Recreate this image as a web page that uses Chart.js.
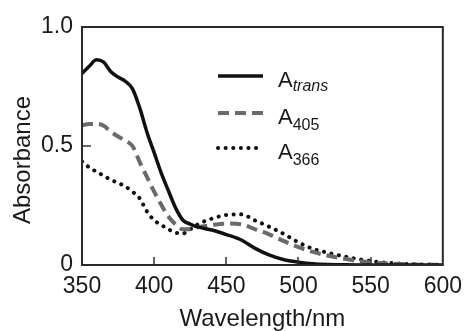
<!DOCTYPE html>
<html>
<head>
<meta charset="utf-8">
<script src="https://cdn.jsdelivr.net/npm/chart.js@4/dist/chart.umd.min.js"></script>
<style>
  html, body { margin: 0; padding: 0; background: #fff; }
  #wrap { width: 470px; height: 331px; }
</style>
</head>
<body>
<div id="wrap"><canvas id="c" width="470" height="331"></canvas></div>
<script>
// ---- data ----
const wavelengths = [350,355,360,365,370,375,380,385,390,395,400,405,410,415,420,425,430,440,450,460,470,480,490,500,510,520,530,540,550,560,570,580,590,600];
const aTrans = [0.805,0.835,0.862,0.852,0.812,0.790,0.772,0.740,0.660,0.558,0.472,0.385,0.310,0.238,0.188,0.172,0.160,0.147,0.128,0.106,0.070,0.041,0.022,0.012,0.005,0.002,0.001,0,0,0,0,0,0,0];
const a405 = [0.588,0.592,0.593,0.585,0.560,0.540,0.522,0.500,0.432,0.370,0.308,0.252,0.203,0.170,0.150,0.150,0.158,0.168,0.174,0.171,0.150,0.128,0.100,0.075,0.055,0.040,0.028,0.018,0.011,0.007,0.004,0.002,0.001,0];
const a366 = [0.435,0.410,0.392,0.375,0.358,0.345,0.330,0.308,0.280,0.225,0.188,0.168,0.150,0.135,0.133,0.150,0.170,0.195,0.210,0.213,0.187,0.160,0.130,0.095,0.068,0.052,0.038,0.026,0.017,0.010,0.006,0.003,0.002,0.001];
const xTicks = [350,400,450,500,550,600];
const yTickLabels = {0: '0', 0.5: '0.5', 1: '1.0'};
const seriesNames = [['A','trans'],['A','405'],['A','366']];

const FONT = '"Liberation Sans", Arial, Helvetica, sans-serif';
const TXT = '#1a1a1a';

function pts(arr){ return wavelengths.map((w,i)=>({x:w, y:arr[i]})); }

const framePlugin = {
  id: 'frameAndTicks',
  afterDatasetsDraw(chart) {
    const {ctx, chartArea: a, scales: {x, y}} = chart;
    ctx.save();
    ctx.strokeStyle = '#333';
    ctx.lineWidth = 1.5;
    ctx.beginPath();
    xTicks.forEach(v => {
      const px = Math.round(x.getPixelForValue(v));
      if (px > a.left + 2 && px < a.right - 2) {
        ctx.moveTo(px, a.bottom); ctx.lineTo(px, a.bottom - 8);
      }
    });
    const py = y.getPixelForValue(0.5);
    ctx.moveTo(a.left, py); ctx.lineTo(a.left + 9, py);
    ctx.stroke();
    ctx.strokeStyle = '#2a2a2a';
    ctx.lineWidth = 2;
    ctx.strokeRect(a.left, a.top, a.right - a.left, a.bottom - a.top);
    ctx.restore();
  },
  afterDraw(chart) {
    const {ctx} = chart;
    ctx.save();
    ctx.fillStyle = TXT;
    ctx.font = '24px ' + FONT;
    ctx.textAlign = 'center';
    ctx.textBaseline = 'middle';
    ctx.translate(23, 160);
    ctx.rotate(-Math.PI/2);
    ctx.fillText('Absorbance', 0, 0);
    ctx.restore();

    const rows = [76, 113, 148];
    chart.data.datasets.forEach((ds, i) => {
      const yy = rows[i];
      ctx.save();
      ctx.strokeStyle = ds.borderColor;
      ctx.lineWidth = ds.borderWidth;
      ctx.lineCap = ds.borderCapStyle || 'butt';
      ctx.setLineDash(ds.borderDash || []);
      ctx.beginPath();
      ctx.moveTo(218, yy); ctx.lineTo(263, yy);
      ctx.stroke();
      ctx.setLineDash([]);
      ctx.fillStyle = TXT;
      ctx.textAlign = 'left';
      ctx.textBaseline = 'alphabetic';
      ctx.font = '22px ' + FONT;
      ctx.fillText(seriesNames[i][0], 278, yy + 11);
      const w = ctx.measureText(seriesNames[i][0]).width;
      if (i === 0) {
        ctx.font = 'italic 16px ' + FONT;
        ctx.fillText(seriesNames[i][1], 278 + w, yy + 15);
      } else {
        ctx.font = '16px ' + FONT;
        ctx.fillText(seriesNames[i][1], 278 + w, yy + 17);
      }
      ctx.restore();
    });
  }
};

new Chart(document.getElementById('c'), {
  type: 'line',
  data: {
    datasets: [
      { label: 'A trans', data: pts(aTrans), borderColor: '#111', borderWidth: 3.5, pointRadius: 0, cubicInterpolationMode: 'monotone', borderCapStyle: 'butt' },
      { label: 'A 405', data: pts(a405), borderColor: '#6a6a6a', borderWidth: 4, borderDash: [11, 6], pointRadius: 0, cubicInterpolationMode: 'monotone', borderCapStyle: 'butt' },
      { label: 'A 366', data: pts(a366), borderColor: '#111', borderWidth: 4, borderDash: [0.1, 7.5], pointRadius: 0, cubicInterpolationMode: 'monotone', borderCapStyle: 'round' }
    ]
  },
  options: {
    responsive: false,
    animation: false,
    devicePixelRatio: 1,
    layout: { padding: { left: 0, right: 23, top: 27, bottom: 0 } },
    plugins: { legend: { display: false }, tooltip: { enabled: false } },
    scales: {
      x: {
        type: 'linear', min: 350, max: 600,
        afterBuildTicks: s => { s.ticks = xTicks.map(v => ({value: v})); },
        afterFit: s => { s.height = 66; },
        grid: { display: false, drawTicks: false },
        border: { display: false },
        ticks: { color: TXT, font: { family: FONT, size: 23 }, padding: 8, maxRotation: 0, autoSkip: false },
        title: { display: true, text: 'Wavelength/nm', color: TXT, font: { family: FONT, size: 24, lineHeight: 1.0 }, padding: { top: 0, bottom: 0 } }
      },
      y: {
        min: 0, max: 1,
        afterBuildTicks: s => { s.ticks = Object.keys(yTickLabels).map(k => ({value: +k})); },
        afterFit: s => { s.width = 82; },
        grid: { display: false, drawTicks: false },
        border: { display: false },
        ticks: { color: TXT, font: { family: FONT, size: 23 }, padding: 9, callback: v => yTickLabels[v] }
      }
    }
  },
  plugins: [framePlugin]
});
</script>
</body>
</html>
